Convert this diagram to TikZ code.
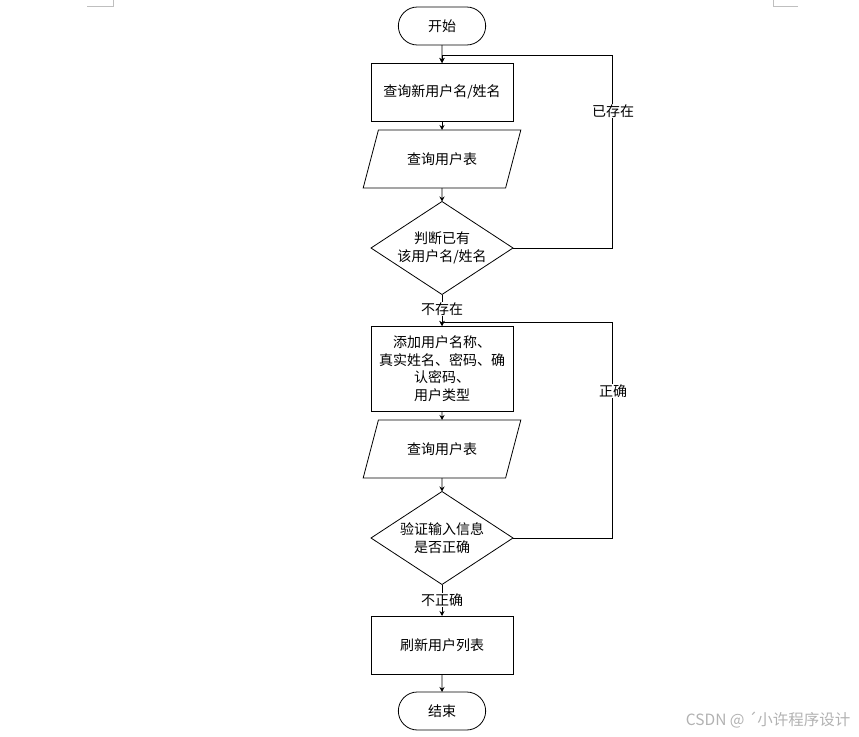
\documentclass[tikz,border=0pt]{standalone}
\usepackage{fontspec}
\setmainfont{Noto Sans CJK SC}
\usetikzlibrary{shapes.geometric,shapes.misc,arrows.meta}
\tikzset{
  flow/.style={draw, line width=0.8pt, font=\fontsize{14}{17.5}\selectfont, align=center, outer sep=0pt},
  terminal/.style={flow, rounded rectangle, minimum width=94pt, minimum height=38pt},
  process/.style={flow, rectangle, minimum width=142pt, minimum height=58pt, inner sep=2pt},
  io/.style={flow, trapezium, trapezium left angle=65, trapezium right angle=115,
    trapezium stretches=true, minimum width=158pt, minimum height=58pt},
  decision/.style={flow, diamond, aspect=1.53, inner sep=-4pt, minimum width=142pt, minimum height=93pt},
  lbl/.style={fill=white, inner sep=1pt, font=\fontsize{14}{16}\selectfont},
  arrow/.style={line width=0.8pt, -{Stealth[length=5pt,width=5pt]}},
  line/.style={line width=0.8pt}
}
\begin{document}
\begin{tikzpicture}[x=1pt, y=-1pt]
  \useasboundingbox (0,0) rectangle (859,736);

  \node[terminal] (start) at (442,26) {开始};
  \node[process] (check) at (442,92) {查询新用户名/姓名};
  \node[io] (table1) at (442,159) {查询用户表};
  \node[decision] (exists) at (442,248) {判断已有\\该用户名/姓名};
  \node[process, minimum height=85pt] (add) at (442,368.5) {添加用户名称、\\真实姓名、密码、确\\认密码、\\用户类型};
  \node[io] (table2) at (442,449) {查询用户表};
  \node[decision] (valid) at (442,538) {验证输入信息\\是否正确};
  \node[process] (refresh) at (442,645) {刷新用户列表};
  \node[terminal] (stop) at (442,711) {结束};

  \draw[arrow] (start) -- (check);
  \draw[arrow] (check) -- (table1);
  \draw[arrow] (table1) -- (exists);
  \draw[arrow] (exists) -- (add);
  \draw[arrow] (add) -- (table2);
  \draw[arrow] (table2) -- (valid);
  \draw[arrow] (valid) -- (refresh);
  \draw[arrow] (refresh) -- (stop);

  \coordinate (back1) at (612,55);
  \draw[arrow] (exists.east) -| (back1) -- (back1 -| check.north) -- (check.north);
  \coordinate (back2) at (612,322);
  \draw[arrow] (valid.east) -| (back2) -- (back2 -| add.north) -- (add.north);

  \node[lbl] (yes1) at (613,111) {已存在};
  \node[lbl] (no1) at (442,309) {不存在};
  \node[lbl] (yes2) at (613,391) {正确};
  \node[lbl] (no2) at (442,600) {不正确};

  % page corner marks and watermark
  \draw[gray!50, line width=0.6pt] (87,6) -- (113,6) -- (113,0);
  \draw[gray!50, line width=0.6pt] (798,6) -- (773,6) -- (773,0);
  \node[text=gray!60, font=\fontsize{15.5}{17}\selectfont, anchor=east] (mark) at (854,720) {CSDN @ ´小许程序设计};
\end{tikzpicture}
\end{document}
